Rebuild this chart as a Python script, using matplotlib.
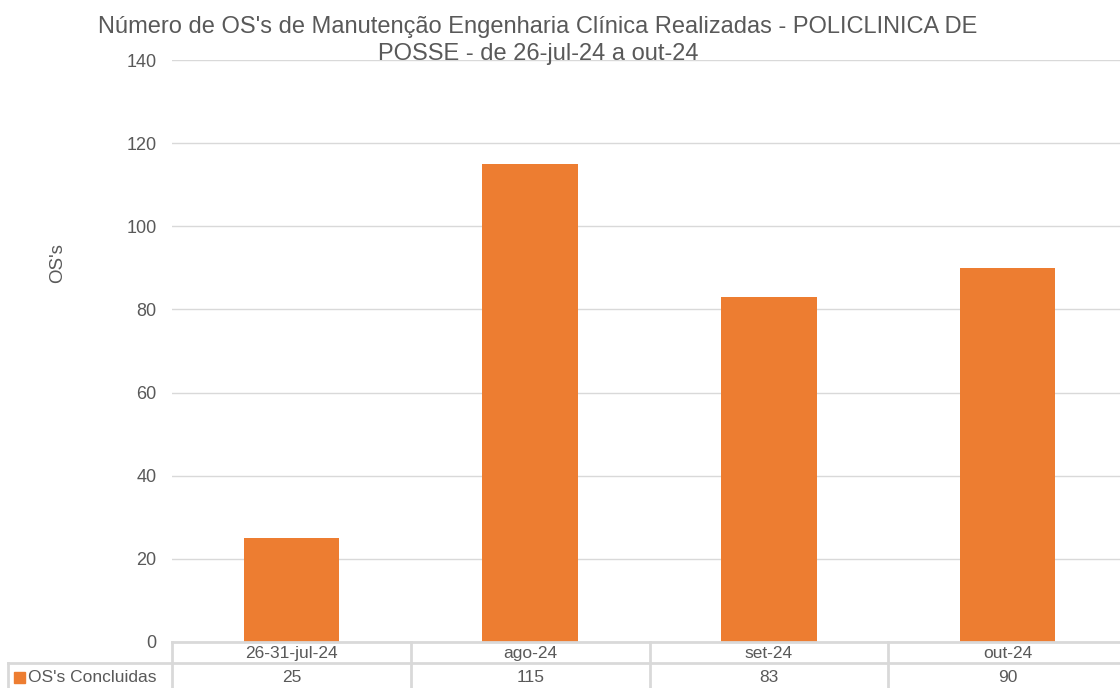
import matplotlib
matplotlib.use("Agg")
import matplotlib.pyplot as plt
from matplotlib.lines import Line2D
from matplotlib.patches import Rectangle

categories = ["26-31-jul-24", "ago-24", "set-24", "out-24"]
values = [25, 115, 83, 90]
series_name = "OS's Concluidas"
title_lines = ["Número de OS's de Manutenção Engenharia Clínica Realizadas - POLICLINICA DE",
               "POSSE - de 26-jul-24 a out-24"]
y_label = "OS's"
y_ticks = [0, 20, 40, 60, 80, 100, 120, 140]

BAR = "#ED7D31"
TXT = "#595959"
GRID = "#D9D9D9"

plt.rcParams["font.family"] = ["Liberation Sans", "DejaVu Sans"]

W, H = 1120, 688
fig = plt.figure(figsize=(W / 100, H / 100), dpi=100)

def fx(px):
    return px / W

def fy(py):
    return 1 - py / H

x0, x1 = 172, 1127
y0, y1 = 642, 60
ax = fig.add_axes([fx(x0), fy(y0), fx(x1) - fx(x0), fy(y1) - fy(y0)])

xs = range(len(categories))
ax.bar(xs, values, width=0.4, color=BAR, zorder=3)
ax.set_xlim(-0.5, len(categories) - 0.5)
ax.set_ylim(0, 140)
ax.set_yticks(y_ticks)
ax.set_yticklabels([str(t) for t in y_ticks], fontsize=13, color=TXT)
ax.tick_params(axis="y", length=0, pad=11)
ax.set_xticks([])
for s in ax.spines.values():
    s.set_visible(False)
ax.yaxis.grid(True, color=GRID, linewidth=1)
ax.set_axisbelow(True)

# two-line title, each line centred on its own
for line, base in zip(title_lines, (33, 60)):
    fig.text(fx(538), fy(base), line, ha="center", va="baseline",
             fontsize=17, color=TXT)
fig.text(fx(58), fy(263), y_label, rotation=90, ha="center", va="center",
         fontsize=13.5, color=TXT)

# data table under the plot
col_w = (x1 - x0) / len(categories)
row1, row2, row3 = 642, 663, 700
lw = 2.0

def hline(y, xa, xb):
    fig.add_artist(Line2D([fx(xa), fx(xb)], [fy(y), fy(y)], color=GRID, lw=lw))

def vline(x, ya, yb):
    fig.add_artist(Line2D([fx(x), fx(x)], [fy(ya), fy(yb)], color=GRID, lw=lw))

hline(row1, x0, x1)
hline(row2, 8, x1)
vline(8, row2, row3)
for i in range(len(categories) + 1):
    vline(x0 + i * col_w, row1, row3)

for i, (cat, val) in enumerate(zip(categories, values)):
    cx = x0 + (i + 0.5) * col_w
    fig.text(fx(cx), fy((row1 + row2) / 2 + 1), cat, ha="center", va="center",
             fontsize=12.5, color=TXT)
    fig.text(fx(cx), fy(677), str(val), ha="center", va="center",
             fontsize=12.5, color=TXT)

fig.add_artist(Rectangle((fx(14), fy(683)), fx(11) - fx(0), fy(0) - fy(11),
                         color=BAR, transform=fig.transFigure))
fig.text(fx(28), fy(677), series_name, ha="left", va="center",
         fontsize=12.5, color=TXT)

fig.savefig("out.png", dpi=100)
